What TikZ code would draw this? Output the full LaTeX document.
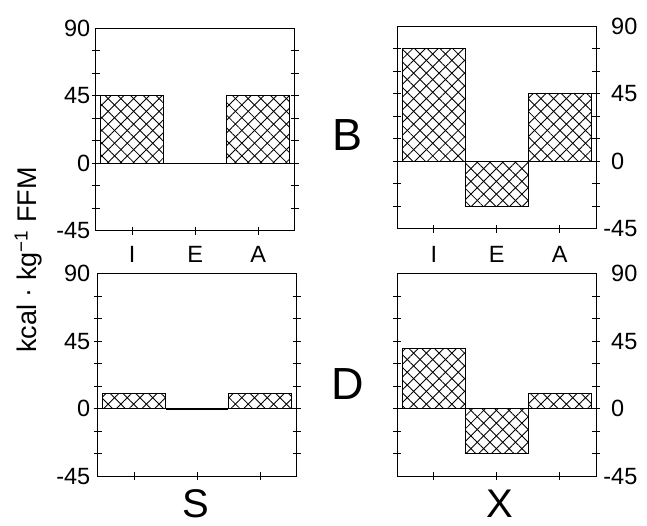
\documentclass[tikz,border=0pt]{standalone}
\usepackage{fontspec}
\setmainfont{Liberation Sans}
\usetikzlibrary{patterns.meta}
\newcommand{\numsize}{\fontsize{23.5}{28}\selectfont}
\newcommand{\titlesize}{\fontsize{27}{32}\selectfont}
\newcommand{\bigsize}{\fontsize{45}{54}\selectfont}
\newcommand{\colsize}{\fontsize{40}{48}\selectfont}
\begin{document}
\begin{tikzpicture}[x=1pt, y=-1pt,
    frame/.style={line width=1.1pt},
    tick/.style={line width=0.9pt},
    bar/.style={line width=1pt,
      pattern={Lines[angle=45, distance=9pt, line width=0.85pt]},
      postaction={pattern={Lines[angle=-45, distance=9pt, line width=0.85pt]}}},
    num/.style={font=\numsize, inner sep=0pt},
    big/.style={font=\bigsize, inner sep=0pt}]
  \useasboundingbox (0,0) rectangle (647,525);

  % panels: name / left edge / zero line / I, E, A
  \foreach \nm/\px/\py/\va/\vb/\vc in {bs/95.7/163.3/45/0/45, bx/397.3/161.3/75/-30/45,
      ds/97.7/408.7/10/0/10, dx/397.3/408.7/40/-30/10} {
    \begin{scope}[shift={(\px,\py)}]
      \draw[frame] (0,0) -- (199,0);
      \draw[bar] (5,0) rectangle (68,-1.5*\va);
      \draw[bar] (68,0) rectangle (131,-1.5*\vb);
      \draw[bar] (131,0) rectangle (194,-1.5*\vc);
      \draw[frame] (0,-135) rectangle (199,67.5);
      \foreach \t in {-30,-15,0,15,30,45,60,75} {
        \draw[tick] (-4,-1.5*\t) -- (4,-1.5*\t);
        \draw[tick] (195,-1.5*\t) -- (203,-1.5*\t);
      }
      \foreach \c in {36.5,99.5,162.5}
        \draw[tick] (\c,63.5) -- (\c,71.5);
    \end{scope}
  }
  \draw[line width=2pt] (165.7,408.7) -- (228.3,408.7);

  % scale on the left
  \foreach \nm/\px/\py in {bs/90.5/163.3, ds/90.5/408.7} {
    \node[num, anchor=east] (\nm-90) at (\px,\py-135) {90};
    \node[num, anchor=east] (\nm-45) at (\px,\py-67.5) {45};
    \node[num, anchor=east] (\nm-0) at (\px,\py) {0};
    \node[num, anchor=east] (\nm-m45) at (\px,\py+67.5) {-45};
  }
  % scale on the right
  \foreach \nm/\px/\py in {bx/611/161.3, dx/611/408.7} {
    \node[num, anchor=west] (\nm-90) at (\px,\py-135) {90};
    \node[num, anchor=west] (\nm-45) at (\px,\py-67.5) {45};
    \node[num, anchor=west] (\nm-0) at (\px,\py) {0};
    \node[num, anchor=west] (\nm-m45) at (\px,\py+67.5) {\llap{-}45};
  }

  % I E A under the upper panels
  \foreach \nm/\px in {bs/95.7, bx/397.3} {
    \node[num, anchor=base] (\nm-I) at (\px+36.5,262) {I};
    \node[num, anchor=base] (\nm-E) at (\px+99.5,262) {E};
    \node[num, anchor=base] (\nm-A) at (\px+162.5,262) {A};
  }

  \node[big] (rowB) at (348,135) {B};
  \node[big] (rowD) at (348,384) {D};
  \node[font=\colsize, inner sep=0pt, anchor=base] (colS) at (195.5,517) {S};
  \node[font=\colsize, inner sep=0pt, anchor=base] (colX) at (500,517) {X};

  \node[font=\titlesize, inner sep=0pt, rotate=90, anchor=base] (unit) at (36.7,260)
    {kcal · kg\textsuperscript{−1} FFM};
\end{tikzpicture}
\end{document}
